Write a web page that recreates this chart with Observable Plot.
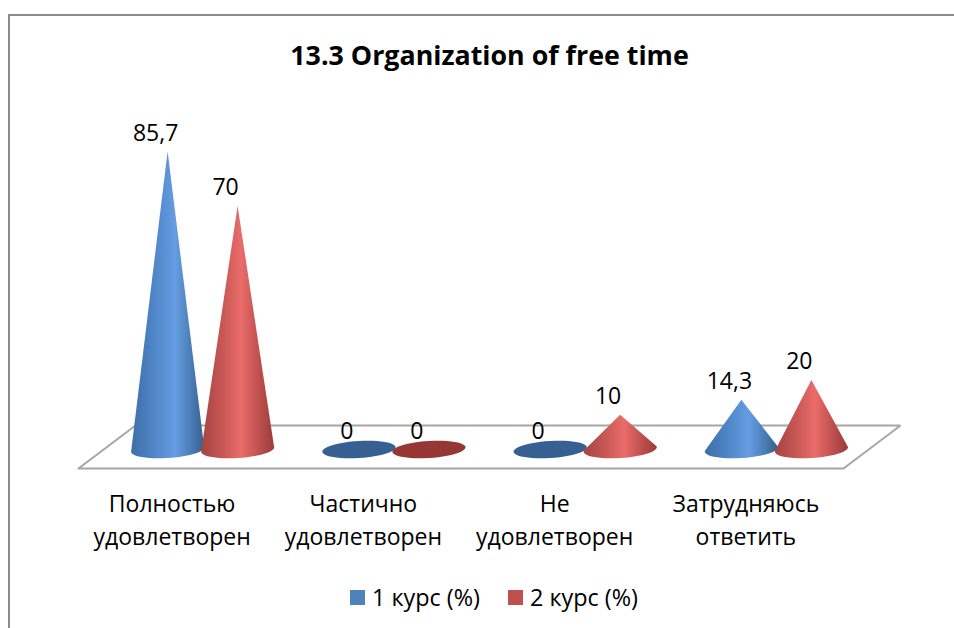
<!DOCTYPE html>
<html><head><meta charset="utf-8">
<script src="https://cdn.jsdelivr.net/npm/d3@7"></script>
<script src="https://cdn.jsdelivr.net/npm/@observablehq/plot@0.6"></script>
<style>
html,body{margin:0;padding:0;background:#fff;overflow:hidden}
body{width:954px;height:628px;position:relative;font-family:"Open Sans",sans-serif;color:#000}
#frame{position:absolute;left:8px;top:14px;width:946px;height:614px;border-left:2px solid #8c8c8c;border-top:2px solid #8c8c8c;box-sizing:border-box}
#title{position:absolute;left:0;top:37px;width:979px;text-align:center;font-size:26.8px;font-weight:700;line-height:36px}
#chart{position:absolute;left:0;top:85px}
#legend{position:absolute;left:350px;top:580px;display:flex;align-items:center;font-size:23.4px;line-height:34px;height:34px}
#legend i{display:inline-block;width:15px;height:15px;margin-right:7px}
#legend span{margin-right:28px;display:inline-flex;align-items:center;white-space:nowrap}
svg{overflow:visible}
</style></head><body>
<div id="frame"></div>
<div id="title">13.3 Organization of free time</div>
<div id="chart"></div>
<div id="legend"></div>
<script>
const chartTitle = "13.3 Organization of free time";
const categories = ["Полностью\nудовлетворен","Частично\nудовлетворен","Не\nудовлетворен","Затрудняюсь\nответить"];
const course1 = [85.7, 0, 0, 14.3];
const course2 = [70, 0, 10, 20];
const seriesNames = ["1 курс (%)","2 курс (%)"];
const legendColors = ["#4f81bd","#c0504d"];
const flatColors = ["#366092","#953735"];

const depthShift = 0.149, seriesOffset = 0.183, baseRx = 0.191, baseRy = 2.45, baseTilt = 0.62;
const floorFront = -5.46, floorBack = 6.9;

const floor = [[0,floorFront],[4,floorFront],[4+2*depthShift,floorBack],[2*depthShift,floorBack],[0,floorFront]]
  .map(([x,y])=>({x,y}));

function conePts(cx, v){
  const pts = d3.range(48).map(i=>{
    const a = i/48*2*Math.PI, dx = Math.cos(a);
    return [cx + baseRx*dx, baseRy*Math.sin(a) + baseTilt*dx];
  });
  if (v > 0) pts.push([cx, v]);
  const h = d3.polygonHull(pts);
  return [...h, h[0]].map(([x,y])=>({x,y}));
}
const allSeries = [course1, course2];
const cones = categories.flatMap((_,i)=> allSeries.map((s,k)=>({
  k, v:s[i], x: i + 0.5 + depthShift + (k===0?-seriesOffset:seriesOffset)
})));

const fontFamily = '"Open Sans",sans-serif';
const plot = Plot.plot({
  width:954, height:480, margin:0, marginBottom:90,
  style:{fontFamily, color:"#000", background:"transparent", overflow:"visible"},
  x:{domain:[0,4], range:[78,843]},
  y:{domain:[-20,90], range:[433.6,50.8], axis:null},
  marks:[
    Plot.line(floor,{x:"x",y:"y",stroke:"#a6a6a6",strokeWidth:2,strokeLinejoin:"miter"}),
    ...cones.map(c=>Plot.line(conePts(c.x,c.v),{x:"x",y:"y",stroke:"none",
      fill: c.v>0 ? `url(#cone${c.k})` : flatColors[c.k]})),
    Plot.text(cones,{x:"x",y:"v",text:d=>String(d.v).replace(".",","),dx:-12,dy:-18,fontSize:23,fill:"#000"}),
    Plot.axisX({ticks:[0.5,1.5,2.5,3.5],tickFormat:d=>categories[d-0.5],tickSize:0,tickPadding:13,
      fontSize:23,lineHeight:1.435,dx:-2,label:null,anchor:"bottom",lineAnchor:"top"})
  ]
});
const defs = d3.select(plot).insert("defs",":first-child");
[[["0","#3d6ea8"],["0.3","#4e85c6"],["0.6","#669de2"],["0.8","#4d80ba"],["1","#365f8f"]],
 [["0","#a54341"],["0.3","#c85855"],["0.55","#ea6c6b"],["0.8","#bd4f4d"],["1","#9c3c3a"]]].forEach((stops,i)=>{
  const g = defs.append("linearGradient").attr("id","cone"+i).attr("x1",0).attr("x2",1).attr("y1",0).attr("y2",0);
  stops.forEach(([o,c])=>g.append("stop").attr("offset",o).attr("stop-color",c));
});
document.getElementById("chart").append(plot);
document.getElementById("title").textContent = chartTitle;
document.getElementById("legend").innerHTML = seriesNames.map((n,i)=>`<span><i style="background:${legendColors[i]}"></i>${n}</span>`).join("");
</script>
</body></html>
